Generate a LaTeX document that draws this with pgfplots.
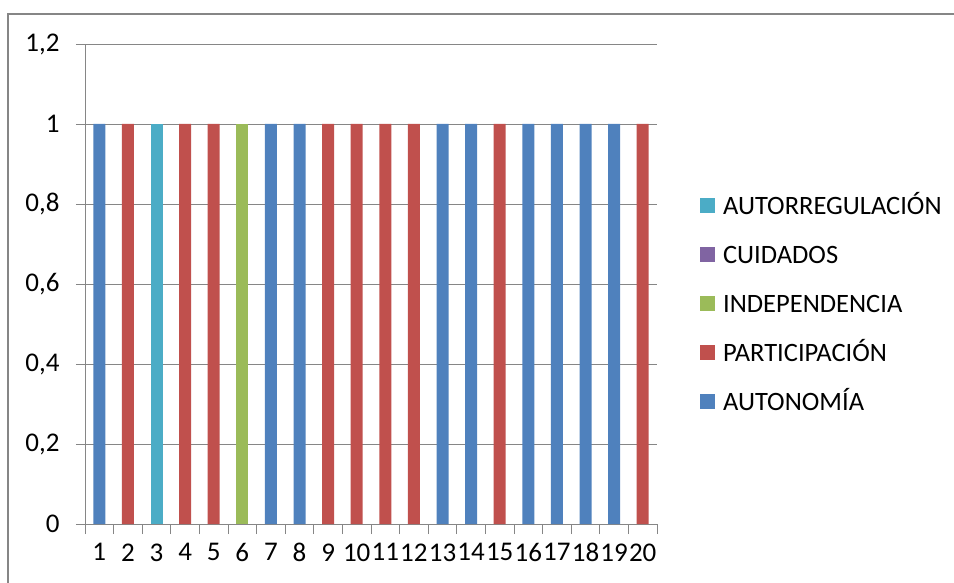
\documentclass[border=0pt]{standalone}
\usepackage{pgfplots}
\pgfplotsset{compat=1.18}
\usepackage{fontspec}
\setmainfont{Carlito}
\definecolor{cAuto}{HTML}{4F81BD}
\definecolor{cPart}{HTML}{C0504D}
\definecolor{cInd}{HTML}{9BBB59}
\definecolor{cCuid}{HTML}{8064A2}
\definecolor{cAutoreg}{HTML}{4BACC6}
\definecolor{axgray}{HTML}{868686}
\begin{document}
\begin{tikzpicture}
\useasboundingbox (0pt,0pt) rectangle (954pt,-583pt);
% chart frame (right and bottom sides fall outside the picture)
\draw[axgray, line width=1.5pt] (8pt,-600pt) -- (8pt,-14pt) -- (970pt,-14pt);
\begin{axis}[
    at={(85pt,-524pt)}, anchor=south west,
    scale only axis, width=572pt, height=480pt,
    xmin=0.5, xmax=20.5, ymin=0, ymax=1.2,
    axis x line*=bottom, axis y line*=left,
    axis line style={draw=axgray, line width=0.9pt, -},
    ymajorgrids, grid style={draw=axgray, line width=0.9pt},
    tick align=outside,
    xtick={1,...,20}, major x tick style={draw=none},
    minor xtick={0.5,1.5,...,20.5},
    minor x tick style={draw=axgray, line width=0.9pt},
    minor tick length=10pt,
    ytick={0,0.2,0.4,0.6,0.8,1,1.2},
    major y tick style={draw=axgray, line width=0.9pt},
    major tick length=9pt,
    xticklabel={\fontsize{27}{31}\selectfont\pgfmathprintnumber[assume math mode=true]{\tick}},
    yticklabel={\fontsize{27}{31}\selectfont\pgfmathprintnumber[assume math mode=true, use comma, fixed, precision=1]{\tick}},
    yticklabel style={xshift=-13pt},
    xticklabel style={yshift=-7pt},
    legend style={draw=none, fill=none, at={(rel axis cs:1.075,0.46)}, anchor=west,
        font=\fontsize{26.5}{30}\selectfont, inner sep=0pt, row sep=31pt,
        nodes={inner sep=0pt, text height=18pt, text depth=0pt}},
    legend cell align=left,
    every axis plot post/.append style={legend image code/.code={%
        \fill[##1] (0pt,-7.5pt) rectangle (15pt,7.5pt);
        \path (23pt,0pt);}},
]
\addplot[ybar, bar width=12pt, bar shift=0pt, fill=cAutoreg, draw=none] coordinates {(3,1)};
\addlegendentry{AUTORREGULACIÓN}
\addlegendimage{fill=cCuid, draw=none}
\addlegendentry{CUIDADOS}
\addplot[ybar, bar width=12pt, bar shift=0pt, fill=cInd, draw=none] coordinates {(6,1)};
\addlegendentry{INDEPENDENCIA}
\addplot[ybar, bar width=12pt, bar shift=0pt, fill=cPart, draw=none] coordinates {
    (2,1) (4,1) (5,1) (9,1) (10,1) (11,1) (12,1) (15,1) (20,1)};
\addlegendentry{PARTICIPACIÓN}
\addplot[ybar, bar width=12pt, bar shift=0pt, fill=cAuto, draw=none] coordinates {
    (1,1) (7,1) (8,1) (13,1) (14,1) (16,1) (17,1) (18,1) (19,1)};
\addlegendentry{AUTONOMÍA}
\end{axis}
\end{tikzpicture}
\end{document}
